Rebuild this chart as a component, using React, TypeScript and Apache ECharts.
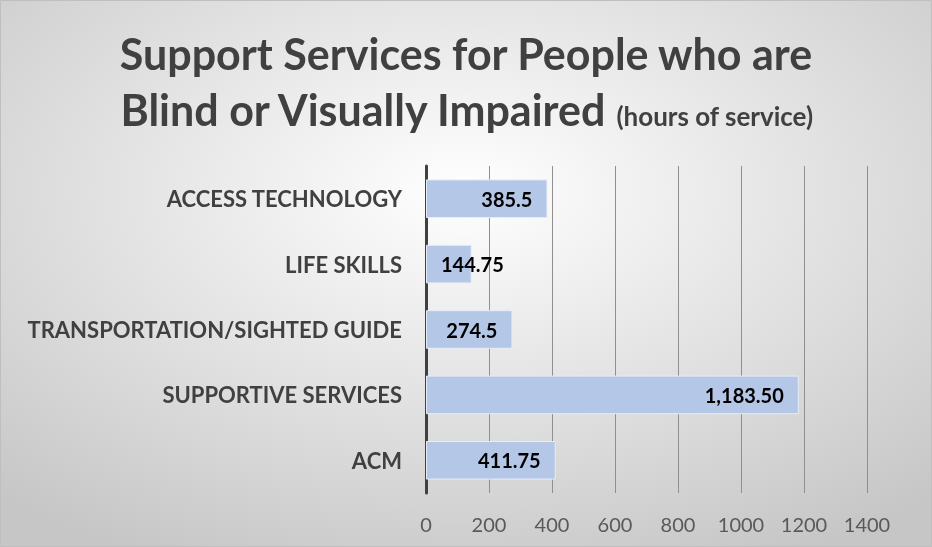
import React, { useEffect, useRef } from "react";
import * as echarts from "echarts";

const categories = [
  "ACM",
  "SUPPORTIVE SERVICES",
  "TRANSPORTATION/SIGHTED GUIDE",
  "LIFE SKILLS",
  "ACCESS TECHNOLOGY",
];
const hours = [411.75, 1183.5, 274.5, 144.75, 385.5];
const valueLabels = ["411.75", "1,183.50", "274.5", "144.75", "385.5"];
const xTicks = [0, 200, 400, 600, 800, 1000, 1200, 1400];

const FONT = "Lato, 'Open Sans', sans-serif";

export default function App() {
  const ref = useRef<HTMLDivElement>(null);
  useEffect(() => {
    if (!ref.current) return;
    const chart = echarts.init(ref.current, undefined, { renderer: "svg" });
    const data = hours.map((v, i) => ({
      value: v,
      label:
        v < 200
          ? {
              position: [15, "50%"],
              align: "left",
              verticalAlign: "middle",
              formatter: valueLabels[i],
            }
          : { position: "insideRight", distance: 15, formatter: valueLabels[i] },
    }));
    chart.setOption({
      animation: false,
      backgroundColor: {
        type: "radial",
        x: 0.5,
        y: 0.35,
        r: 0.75,
        colorStops: [
          { offset: 0, color: "#ffffff" },
          { offset: 1, color: "#c6c6c6" },
        ],
      },
      title: {
        left: "center",
        top: 20,
        text: "{a|Support Services for People who are}\n{a|Blind or Visually Impaired} {b|(hours of service)}",
        textStyle: {
          rich: {
            a: {
              fontFamily: FONT,
              fontWeight: "bold",
              fontSize: 43,
              color: "#404040",
              lineHeight: 56,
            },
            b: {
              fontFamily: FONT,
              fontWeight: "bold",
              fontSize: 26,
              color: "#404040",
              lineHeight: 30,
              padding: [13, 0, 0, 4],
              verticalAlign: "middle",
            },
          },
        },
      },
      graphic: [
        {
          type: "rect",
          shape: { x: 0.5, y: 0.5, width: 931, height: 546 },
          style: { fill: "none", stroke: "#bfbfbf", lineWidth: 1 },
          silent: true,
        },
      ],
      grid: { left: 426, right: 65, top: 166, bottom: 54, containLabel: false },
      xAxis: {
        type: "value",
        min: 0,
        max: 1400,
        interval: 200,
        axisLine: { show: false },
        axisTick: { show: false },
        splitLine: { show: true, lineStyle: { color: "#8f8f8f", width: 1 } },
        axisLabel: {
          margin: 21,
          fontFamily: FONT,
          fontSize: 20,
          color: "#595959",
          formatter: (v: number) => (xTicks.includes(v) ? String(v) : ""),
        },
      },
      yAxis: {
        type: "category",
        data: categories,
        axisLine: { show: true, lineStyle: { color: "#404040", width: 3 } },
        axisTick: { show: false },
        axisLabel: {
          margin: 24,
          fontFamily: FONT,
          fontWeight: "bold",
          fontSize: 22,
          color: "#404040",
        },
      },
      series: [
        {
          type: "bar",
          data,
          barCategoryGap: "41%",
          itemStyle: { color: "#b4c7e7", borderColor: "#e6ecf6", borderWidth: 1 },
          label: {
            show: true,
            fontFamily: FONT,
            fontWeight: "bold",
            fontSize: 20,
            color: "#000000",
          },
          z: 1,
        },
      ],
    });
    return () => chart.dispose();
  }, []);
  return (
    <div
      ref={ref}
      style={{ position: "fixed", left: 0, top: 0, width: 932, height: 547 }}
    />
  );
}
